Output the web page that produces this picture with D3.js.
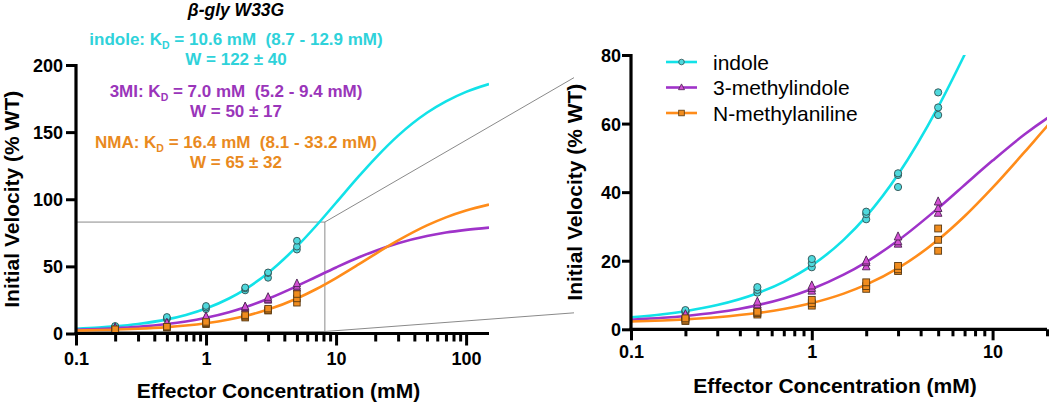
<!DOCTYPE html>
<html>
<head>
<meta charset="utf-8">
<script src="https://cdn.jsdelivr.net/npm/d3@7"></script>
<style>
  html, body { margin: 0; padding: 0; background: #ffffff; }
  svg { display: block; }
  text { font-family: "Liberation Sans", Arial, Helvetica, sans-serif; }
</style>
</head>
<body>
<script>
// ---------------- DATA ----------------
const seriesNames = ["indole", "3-methylindole", "N-methylaniline"];
const seriesShort = ["indole", "3MI", "NMA"];
const kdText = ["10.6 mM  (8.7 - 12.9 mM)", "7.0 mM  (5.2 - 9.4 mM)", "16.4 mM  (8.1 - 33.2 mM)"];
const wText = ["W = 122 \u00B1 40", "W = 50 \u00B1 17", "W = 65 \u00B1 32"];

// fitted curves
const fitX = [0.1, 0.15, 0.2, 0.3, 0.5, 0.7, 1, 1.5, 2, 3, 5, 7, 10, 15, 20, 30, 50, 70, 100, 150];
const indoleFit = [3.47, 4.38, 5.28, 7.06, 10.51, 13.85, 18.63, 26.08, 32.94, 45.14, 64.85, 80.07, 97.4, 117.2, 130.5, 147.4, 164.4, 172.9, 180.0, 185.8];
const mi3Fit    = [2.79, 3.35, 3.90, 4.97, 7.04, 9.0, 11.76, 15.92, 19.62, 25.9, 35.34, 42.1, 49.2, 56.8, 61.5, 67.2, 72.6, 75.2, 77.2, 78.9];
const nmaFit    = [2.27, 2.58, 2.90, 3.52, 4.73, 5.92, 7.65, 10.41, 13.02, 17.83, 26.1, 32.96, 41.3, 51.65, 59.2, 69.3, 80.5, 86.5, 91.6, 96.0];

// measured points (3 replicates per concentration)
const concX = [0.2, 0.5, 1, 2, 3, 5];
const indolePts = [[4.9, 5.3, 5.6], [10.7, 11.5, 12.3], [18.1, 19.3, 20.5], [32.1, 33.6, 34.3], [41.5, 45.0, 45.5], [62.5, 64.7, 69.1]];
const mi3Pts    = [[3.5, 4.0, 4.3], [6.5, 7.2, 8.0], [11.2, 12.0, 12.7], [18.3, 19.5, 20.0], [24.9, 25.6, 27.0], [33.9, 35.3, 37.2]];
const nmaPts    = [[2.4, 2.8, 3.2], [4.3, 4.7, 5.1], [6.9, 7.6, 8.6], [11.8, 12.6, 13.7], [17.0, 17.5, 18.5], [22.9, 26.1, 29.4]];

const leftYTicks = [0, 50, 100, 150, 200];
const rightYTicks = [0, 20, 40, 60, 80];
const leftXLabels = [0.1, 1, 10, 100];
const rightXLabels = [0.1, 1, 10];

// zoom box (left panel data coords)
const zoomBoxX = [0.1, 8.2];
const zoomBoxY = [1.5, 83];

// ---------------- STYLE ----------------
const lineColors = ["#12e2e8", "#9f33c9", "#ff8c1a"];
const textColors = ["#2fd2da", "#9a35ba", "#e98a1e"];
const markFill   = ["#4fd8dc", "#d24fd2", "#f08c1e"];
const markStroke = ["#2f4f50", "#4a2350", "#5a3a12"];
const fits = [indoleFit, mi3Fit, nmaFit];
const pts  = [indolePts, mi3Pts, nmaPts];

const W = 1050, H = 406;
const svg = d3.select("body").append("svg").attr("width", W).attr("height", H);

// ---------------- PANELS ----------------
const left = {
  x: d3.scaleLog().domain([0.1, 150]).range([76, 489]),
  y: d3.scaleLinear().domain([0, 200]).range([333.5, 65]),
  yTicks: leftYTicks, xLabels: leftXLabels,
  majorLen: 12, minorLen: 8, yTickLen: 10, xLabelY: 31.5, yLabelX: -13,
  mk: 0.9, id: "L", xTitleY: 398, yTitleX: 19
};
const right = {
  x: d3.scaleLog().domain([0.1, 20]).range([631, 1047]),
  y: d3.scaleLinear().domain([0, 80]).range([329.3, 55]),
  yTicks: rightYTicks, xLabels: rightXLabels,
  majorLen: 11, minorLen: 7, yTickLen: 9, xLabelY: 28.7, yLabelX: -10,
  mk: 0.95, id: "R", xTitleY: 393, yTitleX: 582
};

function drawPanel(p) {
  const g = svg.append("g");
  const [x0, x1] = p.x.range();
  const [yb, yt] = p.y.range();

  g.append("clipPath").attr("id", "clip" + p.id)
    .append("rect").attr("x", x0).attr("y", yt).attr("width", x1 - x0).attr("height", yb - yt);

  const plot = g.append("g").attr("clip-path", "url(#clip" + p.id + ")");

  const line = d3.line().x(d => p.x(d[0])).y(d => p.y(d[1])).curve(d3.curveMonotoneX);
  fits.forEach((f, i) => {
    const data = fitX.map((xv, j) => [xv, f[j]]);
    plot.append("path").datum(data)
      .attr("d", line).attr("fill", "none")
      .attr("stroke", lineColors[i]).attr("stroke-width", 2.6);
  });

  // markers
  const s = p.mk;
  pts.forEach((arr, i) => {
    arr.forEach((reps, j) => {
      reps.forEach(v => {
        const cx = p.x(concX[j]), cy = p.y(v);
        if (i === 0) {
          plot.append("circle").attr("cx", cx).attr("cy", cy).attr("r", 3.8 * s)
            .attr("fill", markFill[i]).attr("stroke", markStroke[i]).attr("stroke-width", 0.9);
        } else if (i === 1) {
          const h = 8.5 * s, w = 8 * s;
          plot.append("path")
            .attr("d", `M${cx},${cy - h * 0.6}L${cx + w / 2},${cy + h * 0.4}L${cx - w / 2},${cy + h * 0.4}Z`)
            .attr("fill", markFill[i]).attr("stroke", markStroke[i]).attr("stroke-width", 0.9);
        } else {
          const a = 7.2 * s;
          plot.append("rect").attr("x", cx - a / 2).attr("y", cy - a / 2).attr("width", a).attr("height", a)
            .attr("fill", markFill[i]).attr("stroke", markStroke[i]).attr("stroke-width", 0.9);
        }
      });
    });
  });

  // y axis
  const yAxis = d3.axisLeft(p.y).tickValues(p.yTicks).tickSize(p.yTickLen).tickSizeOuter(0).tickPadding(3);
  const ya = g.append("g").attr("transform", `translate(${x0},0)`).call(yAxis);
  ya.select(".domain").attr("stroke", "#000").attr("stroke-width", 3.2)
    .attr("d", `M0,${yt - 1}V${yb + 1.5}`);
  ya.selectAll(".tick line").attr("stroke", "#000").attr("stroke-width", 3);
  ya.selectAll(".tick text").attr("x", p.yLabelX).attr("dy", "0.36em")
    .attr("font-size", 18).attr("font-weight", "bold").attr("fill", "#000")
    .style("font-family", '"Liberation Sans", Arial, sans-serif');

  // x axis
  const tv = p.x.ticks().filter(d => d >= p.x.domain()[0] - 1e-9 && d <= p.x.domain()[1] + 1e-9);
  const isMajor = d => p.xLabels.some(l => Math.abs(l - d) < 1e-9);
  const xAxis = d3.axisBottom(p.x).tickValues(tv)
    .tickFormat(d => isMajor(d) ? (d < 1 ? "0.1" : String(Math.round(d))) : "")
    .tickSize(p.majorLen).tickSizeOuter(0);
  const xa = g.append("g").attr("transform", `translate(0,${yb})`).call(xAxis);
  xa.select(".domain").attr("stroke", "#000").attr("stroke-width", 3.2)
    .attr("d", `M${x0 - 1.5},0H${x1}`);
  xa.selectAll(".tick line").attr("stroke", "#000").attr("stroke-width", 3)
    .attr("y2", d => isMajor(d) ? p.majorLen : p.minorLen);
  xa.selectAll(".tick text").attr("y", p.xLabelY).attr("dy", 0)
    .attr("font-size", 18).attr("font-weight", "bold").attr("fill", "#000")
    .style("font-family", '"Liberation Sans", Arial, sans-serif');

  // axis titles
  g.append("text").attr("x", (x0 + x1) / 2 - 4).attr("y", p.xTitleY)
    .attr("text-anchor", "middle").attr("font-size", 21).attr("font-weight", "bold")
    .text("Effector Concentration (mM)");
  g.append("text").attr("transform", `translate(${p.yTitleX},${(yb + yt) / 2}) rotate(-90)`)
    .attr("text-anchor", "middle").attr("font-size", 21).attr("font-weight", "bold")
    .text("Initial Velocity (% WT)");
  return g;
}

// zoom box + connectors (drawn under left panel)
const zb = svg.append("g");
const bx0 = left.x(zoomBoxX[0]), bx1 = left.x(zoomBoxX[1]);
const by0 = left.y(zoomBoxY[0]), by1 = left.y(zoomBoxY[1]);
zb.append("rect").attr("x", bx0).attr("y", by1).attr("width", bx1 - bx0).attr("height", by0 - by1)
  .attr("fill", "none").attr("stroke", "#8a8a8a").attr("stroke-width", 1);
const connEndX = right.x.range()[0] - 57;
zb.append("line").attr("x1", bx1).attr("y1", by1).attr("x2", connEndX).attr("y2", right.y(73.4))
  .attr("stroke", "#8a8a8a").attr("stroke-width", 1);
zb.append("line").attr("x1", bx1).attr("y1", by0).attr("x2", connEndX).attr("y2", right.y(4.8))
  .attr("stroke", "#8a8a8a").attr("stroke-width", 1);

drawPanel(left);
drawPanel(right);

// ---------------- ANNOTATIONS (left) ----------------
const cx = 236;
svg.append("text").attr("x", cx).attr("y", 16).attr("text-anchor", "middle")
  .attr("font-size", 17.5).attr("font-weight", "bold").attr("font-style", "italic")
  .text("\u03B2-gly W33G");

const baseY = [45, 97, 148];
seriesShort.forEach((nm, i) => {
  const t = svg.append("text").attr("x", cx).attr("y", baseY[i]).attr("text-anchor", "middle")
    .attr("font-size", 17).attr("font-weight", "bold").attr("fill", textColors[i])
    .style("white-space", "pre");
  t.append("tspan").text(nm + ": K");
  t.append("tspan").attr("font-size", 10.5).attr("dy", 4).text("D");
  t.append("tspan").attr("dy", -4).text(" = " + kdText[i]);
  svg.append("text").attr("x", cx).attr("y", baseY[i] + 20).attr("text-anchor", "middle")
    .attr("font-size", 17).attr("font-weight", "bold").attr("fill", textColors[i])
    .text(wText[i]);
});

// ---------------- LEGEND (right) ----------------
const legY = [62, 87.5, 113];
seriesNames.forEach((nm, i) => {
  const g = svg.append("g");
  g.append("line").attr("x1", 666).attr("x2", 697).attr("y1", legY[i]).attr("y2", legY[i])
    .attr("stroke", lineColors[i]).attr("stroke-width", 2.6);
  const mx = 681.5, my = legY[i];
  if (i === 0) {
    g.append("circle").attr("cx", mx).attr("cy", my).attr("r", 2.8)
      .attr("fill", markFill[i]).attr("stroke", markStroke[i]).attr("stroke-width", 0.8);
  } else if (i === 1) {
    g.append("path").attr("d", `M${mx},${my - 3.6}L${mx + 3},${my + 2.2}L${mx - 3},${my + 2.2}Z`)
      .attr("fill", markFill[i]).attr("stroke", markStroke[i]).attr("stroke-width", 0.8);
  } else {
    g.append("rect").attr("x", mx - 2.8).attr("y", my - 2.8).attr("width", 5.6).attr("height", 5.6)
      .attr("fill", markFill[i]).attr("stroke", markStroke[i]).attr("stroke-width", 0.8);
  }
  g.append("text").attr("x", 713).attr("y", my).attr("dy", "0.36em")
    .attr("font-size", 21).attr("fill", "#000").text(nm);
});
</script>
</body>
</html>
